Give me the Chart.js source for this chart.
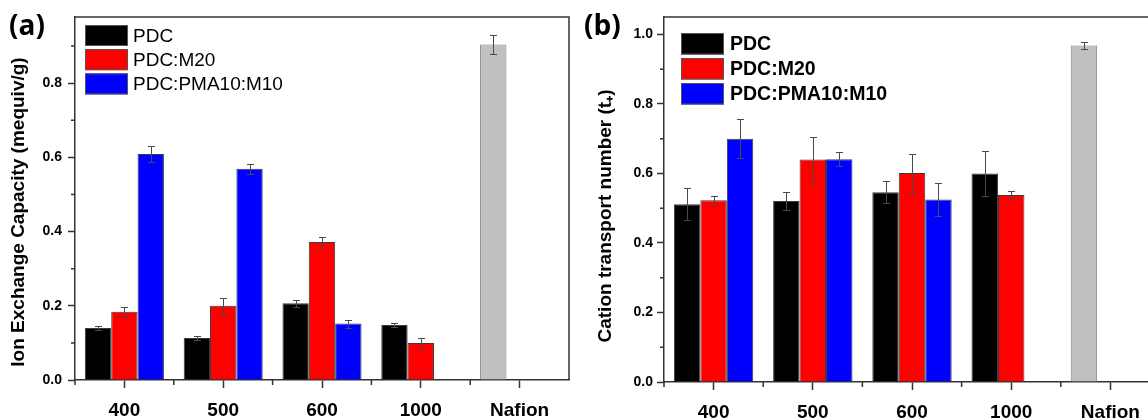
<!DOCTYPE html>
<html>
<head>
<meta charset="utf-8">
<title>IEC and cation transport number</title>
<script src="https://cdn.jsdelivr.net/npm/chart.js@4.4.1/dist/chart.umd.min.js"></script>
<style>
  html, body { margin: 0; padding: 0; background: #fff; width: 1148px; height: 420px; overflow: hidden; }
  .panel { position: absolute; top: 0; height: 420px; }
  #panelA { left: 0; width: 580px; }
  #panelB { left: 580px; width: 600px; }
</style>
</head>
<body>
<div class="panel" id="panelA"><canvas id="chartA"></canvas></div>
<div class="panel" id="panelB"><canvas id="chartB"></canvas></div>

<script>
// ---- data ----
var categories = ['400', '500', '600', '1000', 'Nafion'];
var seriesNames = ['PDC', 'PDC:M20', 'PDC:PMA10:M10'];

// (a) ion exchange capacity, mequiv/g  (Nafion sits in the PDC slot)
var iecPDC = [0.140, 0.113, 0.207, 0.148, 0.904];
var iecM20 = [0.184, 0.200, 0.372, 0.100, null];
var iecPMA = [0.609, 0.569, 0.152, null, null];
var iecPDCErr = [0.006, 0.005, 0.009, 0.005, 0.026];
var iecM20Err = [0.012, 0.021, 0.013, 0.014, null];
var iecPMAErr = [0.021, 0.013, 0.011, null, null];

// (b) cation transport number t+
var tnPDC = [0.511, 0.521, 0.546, 0.600, 0.968];
var tnM20 = [0.523, 0.640, 0.601, 0.538, null];
var tnPMA = [0.700, 0.641, 0.525, null, null];
var tnPDCErr = [0.046, 0.025, 0.032, 0.064, 0.011];
var tnM20Err = [0.012, 0.065, 0.056, 0.011, null];
var tnPMAErr = [0.057, 0.020, 0.048, null, null];

var yTicksA = [0, 0.2, 0.4, 0.6, 0.8];
var yMinorA = [0.1, 0.3, 0.5, 0.7, 0.9];
var yTicksB = [0, 0.2, 0.4, 0.6, 0.8, 1.0];
var yMinorB = [0.1, 0.3, 0.5, 0.7, 0.9];

// ---- styles ----
var seriesColors = ['#000000', '#ff0000', '#0000ff'];
var nafionColor = '#c0c0c0';
var FONT = '"Liberation Sans", Arial, sans-serif';
var AXIS = '#333333';

function makeSets(vals, errs) {
  return seriesNames.map(function (name, k) {
    var bg = seriesColors[k], bc = '#3a3a3a';
    if (k === 0) {
      bg = categories.map(function (c) { return c === 'Nafion' ? nafionColor : seriesColors[0]; });
      bc = categories.map(function (c) { return c === 'Nafion' ? '#808080' : '#3a3a3a'; });
    }
    return {
      label: name,
      data: vals[k],
      errors: errs[k],
      backgroundColor: bg,
      borderColor: bc,
      borderWidth: 1,
      categoryPercentage: 0.8,
      barPercentage: 1.0
    };
  });
}

var errorBars = {
  id: 'errorBars',
  afterDatasetsDraw: function (chart, args, opts) {
    var ctx = chart.ctx, y = chart.scales.y, half = opts.cap / 2;
    ctx.save();
    ctx.strokeStyle = '#4a4a4a';
    ctx.lineWidth = 1;
    chart.data.datasets.forEach(function (ds, di) {
      chart.getDatasetMeta(di).data.forEach(function (bar, i) {
        var v = ds.data[i], e = ds.errors[i];
        if (v == null || e == null) return;
        var top = Math.round(y.getPixelForValue(v + e)) + 0.5;
        var bot = Math.round(y.getPixelForValue(v - e)) + 0.5;
        var bx = Math.round(bar.x) + 0.5;
        ctx.beginPath();
        ctx.moveTo(bx, top); ctx.lineTo(bx, bot);
        ctx.moveTo(bx - half, top); ctx.lineTo(bx + half, top);
        ctx.moveTo(bx - half, bot); ctx.lineTo(bx + half, bot);
        ctx.stroke();
      });
    });
    ctx.restore();
  }
};

var decor = {
  id: 'decor',
  afterDraw: function (chart, args, o) {
    var ctx = chart.ctx, a = chart.chartArea, x = chart.scales.x, y = chart.scales.y;
    ctx.save();
    ctx.strokeStyle = AXIS;
    ctx.lineWidth = 1.5;
    ctx.beginPath();
    ctx.moveTo(a.left, a.top); ctx.lineTo(a.right, a.top); ctx.lineTo(a.right, a.bottom);
    ctx.stroke();

    // minor ticks
    ctx.beginPath();
    o.yMinor.forEach(function (v) {
      var py = y.getPixelForValue(v);
      ctx.moveTo(a.left - 4, py); ctx.lineTo(a.left, py);
    });
    for (var i = 0; i < chart.data.labels.length; i++) {
      var px = x.getPixelForValue(i - 0.5);
      ctx.moveTo(px, a.bottom); ctx.lineTo(px, a.bottom + 5);
    }
    ctx.stroke();

    // legend
    var L = o.legend;
    ctx.font = L.font;
    ctx.textBaseline = 'middle';
    ctx.textAlign = 'left';
    seriesNames.forEach(function (name, k) {
      var top = a.top + L.y + k * L.pitch;
      ctx.fillStyle = seriesColors[k];
      ctx.fillRect(a.left + L.x, top, L.w, L.h);
      ctx.lineWidth = 1;
      ctx.strokeStyle = '#555';
      ctx.strokeRect(a.left + L.x + 0.5, top + 0.5, L.w - 1, L.h - 1);
      ctx.fillStyle = '#000';
      ctx.fillText(name, a.left + L.x + L.w + L.gap, top + L.h / 2 + 1);
    });

    // y axis title
    ctx.font = 'bold 19px ' + FONT;
    ctx.textAlign = 'center';
    ctx.textBaseline = 'middle';
    ctx.translate(o.title.x, o.title.y);
    ctx.rotate(-Math.PI / 2);
    ctx.fillText(o.title.text, 0, 0);
    ctx.restore();

    // panel letter
    ctx.save();
    ctx.font = 'bold 28px "Open Sans", ' + FONT;
    ctx.fillStyle = '#000';
    ctx.textAlign = 'left';
    ctx.textBaseline = 'alphabetic';
    ctx.fillText(o.letter.text, o.letter.x, o.letter.y);
    ctx.restore();
  }
};

function makeChart(id, sets, cfg) {
  return new Chart(document.getElementById(id), {
    type: 'bar',
    data: { labels: categories, datasets: sets },
    options: {
      responsive: true,
      maintainAspectRatio: false,
      animation: false,
      layout: { padding: { left: cfg.padLeft, top: 17, right: cfg.padRight, bottom: 0 } },
      plugins: {
        legend: { display: false },
        tooltip: { enabled: false },
        errorBars: { cap: 7 },
        decor: { yMinor: cfg.yMinor, legend: cfg.legend, title: cfg.title, letter: cfg.letter }
      },
      scales: {
        x: {
          grid: { offset: false, drawOnChartArea: false, tickLength: 8, tickWidth: 1.5, tickColor: AXIS },
          border: { color: AXIS, width: 1.5 },
          ticks: { color: '#000', font: { family: FONT, size: 19, weight: 'bold' }, padding: 11, maxRotation: 0, autoSkip: false },
          afterFit: function (s) { s.height = cfg.xHeight; }
        },
        y: {
          min: 0,
          max: cfg.yMax,
          afterBuildTicks: function (s) { s.ticks = cfg.yTicks.map(function (v) { return { value: v }; }); },
          grid: { drawOnChartArea: false, tickLength: 7, tickWidth: 1.5, tickColor: AXIS },
          border: { color: AXIS, width: 1.5 },
          ticks: {
            color: '#000', padding: cfg.yPad,
            font: { family: FONT, size: 14, weight: 'bold' },
            callback: function (v) { return Number(v).toFixed(1); }
          },
          afterFit: function (s) { s.width = cfg.yWidth; }
        }
      }
    },
    plugins: [errorBars, decor]
  });
}

makeChart('chartA', makeSets([iecPDC, iecM20, iecPMA], [iecPDCErr, iecM20Err, iecPMAErr]), {
  padLeft: 5, padRight: 11, yWidth: 70, xHeight: 40, yPad: 6,
  yMax: 0.978, yTicks: yTicksA, yMinor: yMinorA,
  legend: { x: 10, y: 8, pitch: 24.2, w: 43, h: 21, gap: 5, font: '19px ' + FONT },
  title: { text: 'Ion Exchange Capacity (mequiv/g)', x: 19, y: 212 },
  letter: { text: '(a)', x: 9, y: 35 }
});

makeChart('chartB', makeSets([tnPDC, tnM20, tnPMA], [tnPDCErr, tnM20Err, tnPMAErr]), {
  padLeft: 0, padRight: 20, yWidth: 84, xHeight: 38, yPad: 4,
  yMax: 1.05, yTicks: yTicksB, yMinor: yMinorB,
  legend: { x: 17, y: 16, pitch: 25, w: 43, h: 21.5, gap: 6, font: 'bold 19.5px ' + FONT },
  title: { text: 'Cation transport number (t\u208A)', x: 26, y: 216 },
  letter: { text: '(b)', x: 4, y: 35 }
});
</script>
</body>
</html>
